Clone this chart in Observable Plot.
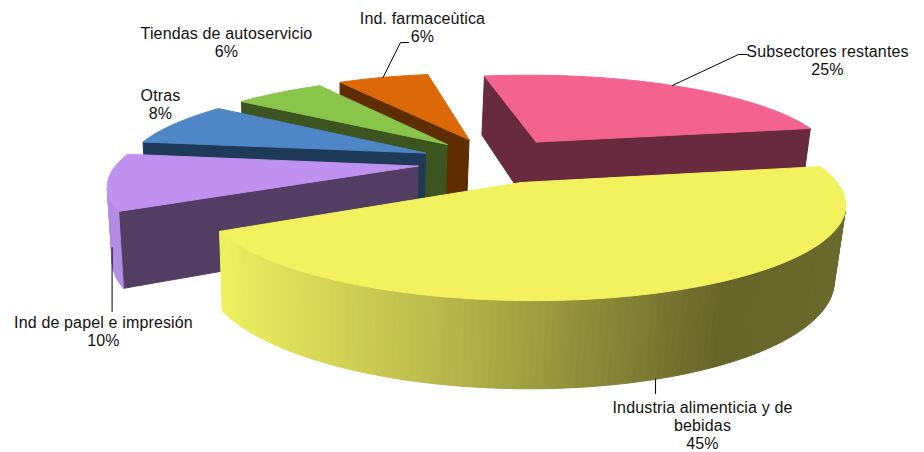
<!DOCTYPE html>
<html><head><meta charset="utf-8">
<script src="https://cdn.jsdelivr.net/npm/d3@7"></script>
<script src="https://cdn.jsdelivr.net/npm/@observablehq/plot@0.6"></script>
<style>html,body{margin:0;background:#fff}</style>
</head><body><div id="c"></div>
<script>
// Data
const names=["Subsectores restantes","Industria alimenticia y de\nbebidas","Ind de papel e impresión","Otras","Tiendas de autoservicio","Ind. farmaceùtica"];
const values=[25,45,10,8,6,6];

// Palette
const tops=["#F4628F","#F2F25E","#BF91F0","#4F86C8","#88C54A","#DC6808"];
const walls=["#672A3F","#676428","#533D63","#1F3A57","#3B5420","#5E2D02"];
const rims=["#672A3F","#676428","#B58CE5","#1F3A57","#3B5420","#5E2D02"];
const yellowRim=d3.scaleLinear([217,460,725,846],["#F0F060","#B5B34A","#676428","#6A6A2C"]);

// Perspective camera of the 3-D pie and the explosion offset of each slice
const cam=[305.933,-92.4283,479.958,-0.627528,56.7767,170.735,-0.00322137,-0.194721,7.19379,77.2099,0.0215284];
const explode=[[0.194464,-0.346446],[0.128136,0.122606],[-0.205294,-0.058255],[-0.184886,-0.210255],[-0.114106,-0.316002],[-0.038405,-0.374503]];
const startAngle=-10*Math.PI/180;

// Label layout
const lx=[827,702,103,160,226,422],ly=[59.5,425,331,104,42,27];
const leadZ=[0,1,0.9,null,null,0],leadT=[0.5,0.494,0.5,0.5,0.5,0.5];
const elbows=[[[738,54],[746,54]],[[null,393]],[[null,311]],[],[],[[400,42],[408,42]]];

const angs=[];{let a=startAngle;for(const v of values){const b=a+v/100*2*Math.PI;angs.push([a,b]);a=b;}}
function project(X,Y,z){const p=cam,W=p[6]*X+p[7]*Y+1+z*p[10];return[(p[0]*X+p[1]*Y+p[2]+z*p[8])/W,(p[3]*X+p[4]*Y+p[5]+z*p[9])/W];}
const rimPt=(i,a,z)=>project(explode[i][0]+Math.sin(a),explode[i][1]-Math.cos(a),z);
const apex=(i,z)=>project(explode[i][0],explode[i][1],z);

const polys=[];let id=0;
const add=(pts,col)=>{id++;pts.concat([pts[0]]).forEach(q=>polys.push({x:q[0],y:q[1],id,col}));};
const shoelace=P=>P.reduce((s,q,i)=>{const n=P[(i+1)%P.length];return s+q[0]*n[1]-n[0]*q[1];},0);
for(const i of [0,5,4,3,2,1]){
  const[a1,a2]=angs[i],N=Math.ceil((a2-a1)*180/Math.PI);
  const T=(k,z)=>rimPt(i,a1+(a2-a1)*k/N,z);
  const wall=(P0,P1,Q1,Q0,col)=>{const P=[P0,P1,Q1,Q0];if(shoelace(P)<0)add(P,col);};
  wall(apex(i,0),T(0,0),T(0,1),apex(i,1),walls[i]);
  wall(T(N,0),apex(i,0),apex(i,1),T(N,1),walls[i]);
  for(let k=0;k<N;k++){const P0=T(k,0),P1=T(k+1,0);wall(P0,P1,T(k+1,1),T(k,1),i==1?yellowRim((P0[0]+P1[0])/2):rims[i]);}
  const top=[apex(i,0)];for(let k=0;k<=N;k++)top.push(T(k,0));add(top,tops[i]);
}
const labels=names.map((n,i)=>({t:n+"\n"+values[i]+"%",x:lx[i],y:ly[i]}));
const lead=[];
values.forEach((v,i)=>{if(leadZ[i]==null)return;const q=rimPt(i,angs[i][0]+(angs[i][1]-angs[i][0])*leadT[i],leadZ[i]);
  [q,...elbows[i]].forEach(e=>lead.push({x:e[0]==null?q[0]:e[0],y:e[1],i}));});

const chart=Plot.plot({width:924,height:452,margin:0,
  style:{letterSpacing:"0.15px",background:"#fff"},
  x:{axis:null,domain:[0,924],range:[0,924]},y:{axis:null,domain:[0,452],range:[0,452]},color:{type:"identity"},
  marks:[
    Plot.line(polys,{x:"x",y:"y",z:"id",fill:"col",stroke:"col",strokeWidth:1}),
    Plot.line(lead,{x:"x",y:"y",z:"i",stroke:"#000",strokeWidth:1}),
    Plot.text(labels,{x:"x",y:"y",text:"t",fontFamily:"Liberation Sans",fontSize:16,lineHeight:1.125,fill:"#111"})
  ]});
document.getElementById("c").append(chart);
</script></body></html>
